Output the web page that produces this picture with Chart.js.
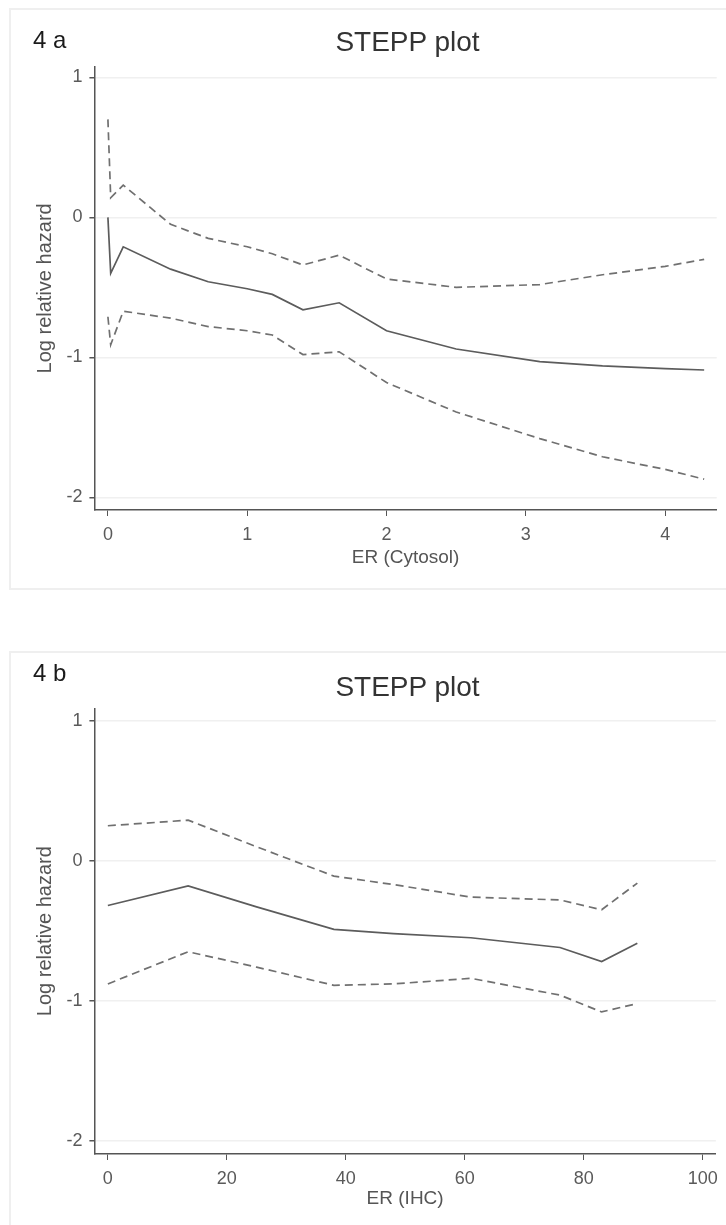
<!DOCTYPE html>
<html>
<head>
<meta charset="utf-8">
<script src="https://cdn.jsdelivr.net/npm/chart.js@4.4.1/dist/chart.umd.min.js"></script>
<style>
  html, body { margin: 0; padding: 0; background: #fff; }
  body { width: 726px; height: 1225px; position: relative; overflow: hidden; font-family: "Liberation Sans", Arial, sans-serif; }
  .frame { position: absolute; left: 9px; width: 730px; border: 2px solid #efefef; box-sizing: border-box; }
  canvas { position: absolute; left: 0; }
  .panel-label { position: absolute; left: 33px; font-size: 24px; line-height: 1; color: #1a1a1a; }
  .title { position: absolute; left: 0; width: 815px; text-align: center; font-size: 28px; line-height: 1; color: #333; }
</style>
</head>
<body>
<div class="frame" style="top:8px; height:582px;"></div>
<div class="frame" style="top:651px; height:590px;"></div>
<canvas id="chartA" width="726" height="600" style="top:0px;"></canvas>
<canvas id="chartB" width="726" height="625" style="top:600px;"></canvas>
<div class="panel-label" style="top:28px;">4 a</div>
<div class="title" style="top:28px;">STEPP plot</div>
<div class="panel-label" style="top:661px;">4 b</div>
<div class="title" style="top:673px;">STEPP plot</div>

<script>
// 4a: ER (Cytosol)
const erCytosol = [0, 0.02, 0.11, 0.45, 0.72, 1.0, 1.18, 1.40, 1.66, 2.0, 2.5, 3.1, 3.55, 4.0, 4.28];
const estA   = [0.0, -0.40, -0.21, -0.37, -0.46, -0.51, -0.55, -0.66, -0.61, -0.81, -0.94, -1.03, -1.06, -1.08, -1.09];
const upperA = [0.70, 0.14, 0.23, -0.05, -0.15, -0.21, -0.26, -0.34, -0.27, -0.44, -0.50, -0.48, -0.41, -0.35, -0.30];
const lowerA = [-0.71, -0.91, -0.67, -0.72, -0.78, -0.81, -0.84, -0.98, -0.96, -1.18, -1.39, -1.58, -1.71, -1.80, -1.87];

// 4b: ER (IHC)
const erIHC  = [0, 13.5, 25, 38, 48, 61, 76, 83, 89];
const estB   = [-0.32, -0.18, -0.33, -0.49, -0.52, -0.55, -0.62, -0.72, -0.59];
const upperB = [0.25, 0.29, 0.10, -0.11, -0.17, -0.26, -0.28, -0.35, -0.16];
const lowerB = [-0.88, -0.65, -0.76, -0.89, -0.88, -0.84, -0.96, -1.08, -1.02];

const yTicks  = [-2, -1, 0, 1];
const xTicksA = [0, 1, 2, 3, 4];
const xTicksB = [0, 20, 40, 60, 80, 100];

Chart.defaults.font.family = '"Liberation Sans", Arial, sans-serif';

function pts(xs, ys) {
    return xs.map((x, i) => ({ x: x, y: ys[i] }));
}

function makeChart(id, xs, est, upper, lower, cfg) {
    const ctx = document.getElementById(id).getContext('2d');
    const band = {
        borderColor: '#707070',
        borderWidth: 1.7,
        borderDash: [8, 5],
        pointRadius: 0,
        tension: 0,
        fill: false
    };
    return new Chart(ctx, {
        type: 'line',
        data: {
            datasets: [
                Object.assign({ label: 'Upper', data: pts(xs, upper) }, band),
                {
                    label: 'Estimate',
                    data: pts(xs, est),
                    borderColor: '#5c5c5c',
                    borderWidth: 1.7,
                    pointRadius: 0,
                    tension: 0,
                    fill: false
                },
                Object.assign({ label: 'Lower', data: pts(xs, lower) }, band)
            ]
        },
        options: {
            responsive: false,
            animation: false,
            layout: { padding: cfg.padding },
            plugins: {
                legend: { display: false },
                tooltip: { enabled: false }
            },
            scales: {
                x: {
                    type: 'linear',
                    min: cfg.xMin,
                    max: cfg.xMax,
                    afterFit: s => { s.height = 62; },
                    afterBuildTicks: s => { s.ticks = cfg.xTicks.map(v => ({ value: v })); },
                    grid: { drawOnChartArea: false, tickColor: '#555', tickLength: 6 },
                    border: { color: '#555', width: 1.5 },
                    ticks: { font: { size: 18 }, color: '#5a5a5a', padding: 8, maxRotation: 0 },
                    title: { display: true, text: cfg.xTitle, font: { size: 19 }, color: '#555',
                             padding: { top: 0, bottom: cfg.titlePad } }
                },
                y: {
                    type: 'linear',
                    min: cfg.yMin,
                    max: cfg.yMax,
                    afterFit: s => { s.width = 94.4; },
                    afterBuildTicks: s => { s.ticks = yTicks.map(v => ({ value: v })); },
                    grid: { color: '#f0f0f0', lineWidth: 1.5, tickColor: '#555', tickLength: 5 },
                    border: { color: '#555', width: 1.5 },
                    ticks: { font: { size: 18 }, color: '#5a5a5a', padding: 7 },
                    title: { display: true, text: 'Log relative hazard', font: { size: 20 }, color: '#555',
                             padding: { top: 33, bottom: 0 } }
                }
            }
        }
    });
}

makeChart('chartA', erCytosol, estA, upperA, lowerA, {
    xMin: -0.097, xMax: 4.37, yMin: -2.09, yMax: 1.076,
    xTicks: xTicksA, xTitle: 'ER (Cytosol)', titlePad: 3,
    padding: { left: 0, right: 9.3, top: 66.7, bottom: 28 }
});

makeChart('chartB', erIHC, estB, upperB, lowerB, {
    xMin: -2.26, xMax: 102.2, yMin: -2.095, yMax: 1.089,
    xTicks: xTicksB, xTitle: 'ER (IHC)', titlePad: 6,
    padding: { left: 0, right: 9.3, top: 108.3, bottom: 9 }
});
</script>
</body>
</html>
